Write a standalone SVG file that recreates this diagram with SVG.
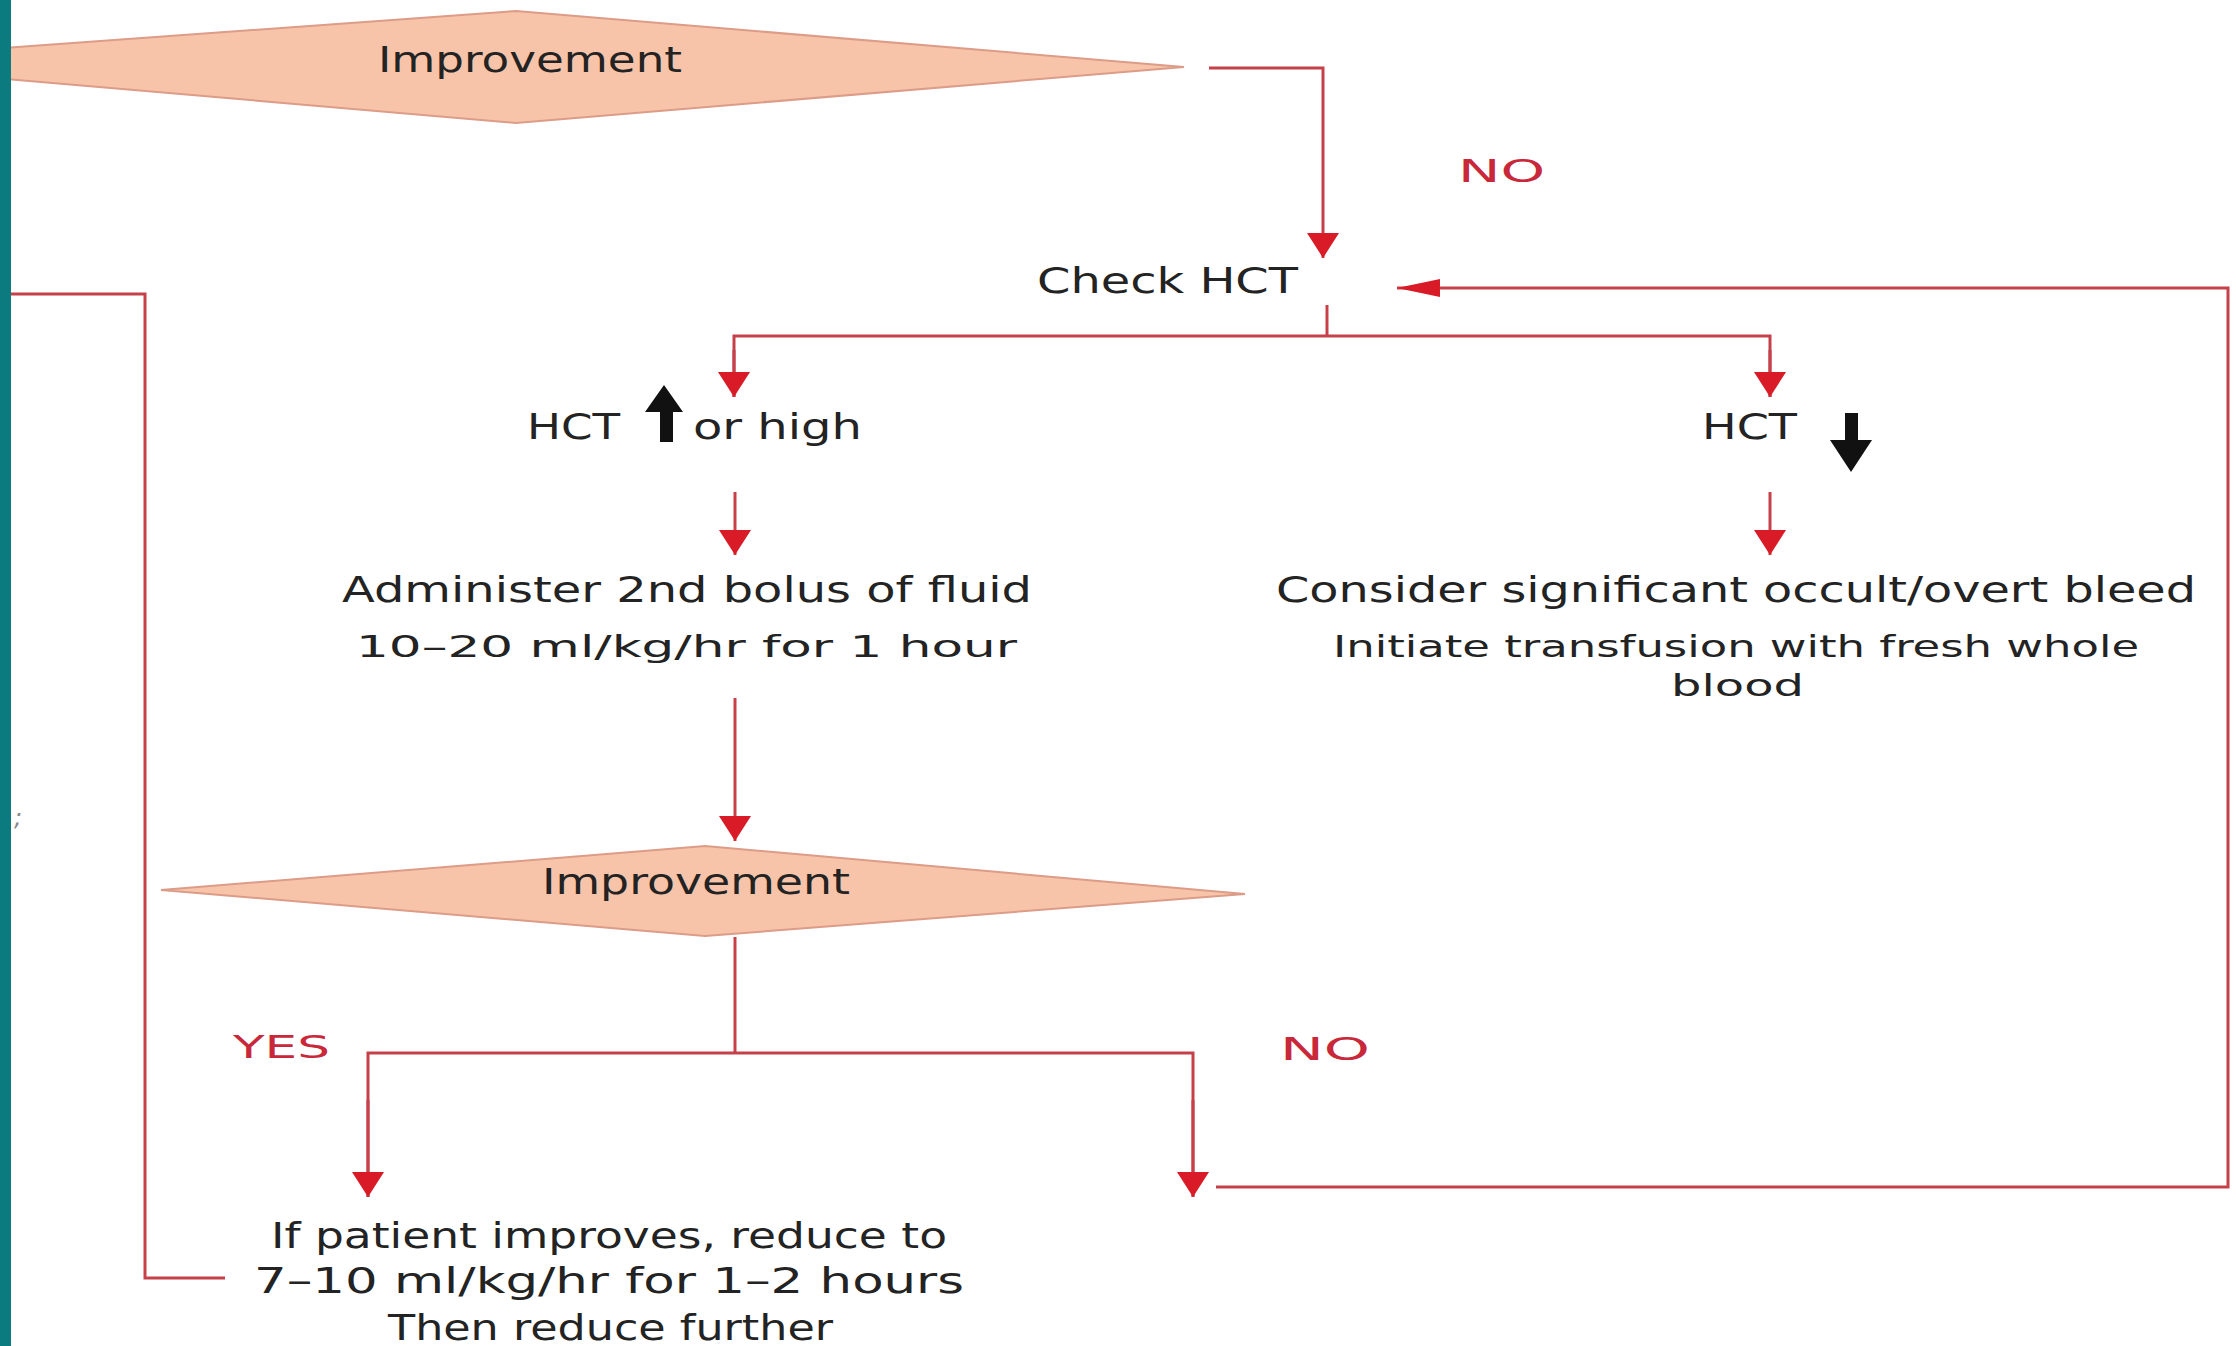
<svg xmlns="http://www.w3.org/2000/svg" width="2236" height="1346" viewBox="0 0 2236 1346">
<style>
.t{font-family:"DejaVu Sans","Liberation Sans",sans-serif;fill:#232323;font-size:35px}
.s{font-size:31px}
.r{font-family:"DejaVu Sans","Liberation Sans",sans-serif;fill:#c8283a;font-size:32px}
.ln{fill:none;stroke:#c6404a;stroke-width:3}
.dv{fill:url(#none);fill:#f8c4a9;stroke:#dc9c88;stroke-width:2}
.blk{fill:#111}
</style>
<defs>
<marker id="av" markerUnits="userSpaceOnUse" markerWidth="25" markerHeight="32" viewBox="0 0 25 32" refX="25" refY="16" orient="auto">
<path d="M0,0 L25,16 L0,32 Z" fill="#d81b26"/>
</marker>
<marker id="ah" markerUnits="userSpaceOnUse" markerWidth="43" markerHeight="18" viewBox="0 0 43 18" refX="43" refY="9" orient="auto">
<path d="M0,0 L43,9 L0,18 Z" fill="#d81b26"/>
</marker>
</defs>
<rect x="0" y="0" width="2236" height="1346" fill="#ffffff"/>

<g id="improvement-top">
<polygon class="dv" points="516,11 1184,67 516,123 -191,62"/>
<text class="t" x="378" y="72" textLength="304" lengthAdjust="spacingAndGlyphs">Improvement</text>
</g>

<g id="check-hct">
<text class="t" x="1037" y="293" textLength="261" lengthAdjust="spacingAndGlyphs">Check HCT</text>
</g>

<g id="hct-high">
<text class="t" x="527" y="439" textLength="93" lengthAdjust="spacingAndGlyphs">HCT</text>
<path class="blk" d="M660,442 L660,412 L645,412 L664,385 L683,412 L673,412 L673,442 Z"/>
<text class="t" x="693" y="439" textLength="169" lengthAdjust="spacingAndGlyphs">or high</text>
</g>

<g id="hct-low">
<text class="t" x="1702" y="439" textLength="95" lengthAdjust="spacingAndGlyphs">HCT</text>
<path class="blk" d="M1845,413 L1858,413 L1858,440 L1872,440 L1851,472 L1830,440 L1845,440 Z"/>
</g>

<g id="second-bolus">
<text class="t" x="342" y="602" textLength="690" lengthAdjust="spacingAndGlyphs">Administer 2nd bolus of fluid</text>
<text class="t s" x="356" y="657" textLength="661" lengthAdjust="spacingAndGlyphs">10–20 ml/kg/hr for 1 hour</text>
</g>

<g id="bleed">
<text class="t" x="1276" y="602" textLength="920" lengthAdjust="spacingAndGlyphs">Consider significant occult/overt bleed</text>
<text class="t s" x="1333" y="657" textLength="806" lengthAdjust="spacingAndGlyphs">Initiate transfusion with fresh whole</text>
<text class="t s" x="1671" y="696" textLength="133" lengthAdjust="spacingAndGlyphs">blood</text>
</g>

<g id="improvement-bottom">
<polygon class="dv" points="705,846 1245,894 705,936 161,890"/>
<text class="t" x="542" y="894" textLength="308" lengthAdjust="spacingAndGlyphs">Improvement</text>
</g>

<g id="reduce">
<text class="t" x="271" y="1248" textLength="676" lengthAdjust="spacingAndGlyphs">If patient improves, reduce to</text>
<text class="t" x="254" y="1293" textLength="710" lengthAdjust="spacingAndGlyphs">7–10 ml/kg/hr for 1–2 hours</text>
<text class="t" x="388" y="1340" textLength="445" lengthAdjust="spacingAndGlyphs">Then reduce further</text>
</g>

<g id="connectors">
<path class="ln" d="M1209,68 L1323,68 L1323,258" marker-end="url(#av)"/>
<path class="ln" d="M1327,305 L1327,336"/>
<path class="ln" d="M734,397 L734,336 L1770,336 L1770,397" />
<path class="ln" d="M734,350 L734,397" marker-end="url(#av)"/>
<path class="ln" d="M1770,350 L1770,397" marker-end="url(#av)"/>
<path class="ln" d="M735,492 L735,555" marker-end="url(#av)"/>
<path class="ln" d="M1770,492 L1770,555" marker-end="url(#av)"/>
<path class="ln" d="M735,698 L735,841" marker-end="url(#av)"/>
<path class="ln" d="M735,937 L735,1053"/>
<path class="ln" d="M368,1197 L368,1053 L1193,1053 L1193,1197"/>
<path class="ln" d="M368,1100 L368,1197" marker-end="url(#av)"/>
<path class="ln" d="M1193,1100 L1193,1197" marker-end="url(#av)"/>
<path class="ln" d="M1216,1187 L2228,1187 L2228,288 L1397,288" marker-end="url(#ah)"/>
<path class="ln" d="M225,1278 L145,1278 L145,294 L11,294"/>
<text class="r" x="1458" y="182" textLength="87" lengthAdjust="spacingAndGlyphs">NO</text>
<text class="r" x="233" y="1058" textLength="97" lengthAdjust="spacingAndGlyphs">YES</text>
<text class="r" x="1280" y="1060" textLength="90" lengthAdjust="spacingAndGlyphs">NO</text>
</g>

<text x="14" y="826" font-family="DejaVu Sans, sans-serif" font-size="24" font-style="italic" fill="#888">;</text>
<rect x="0" y="0" width="11" height="1346" fill="#0b7b80"/>
</svg>
